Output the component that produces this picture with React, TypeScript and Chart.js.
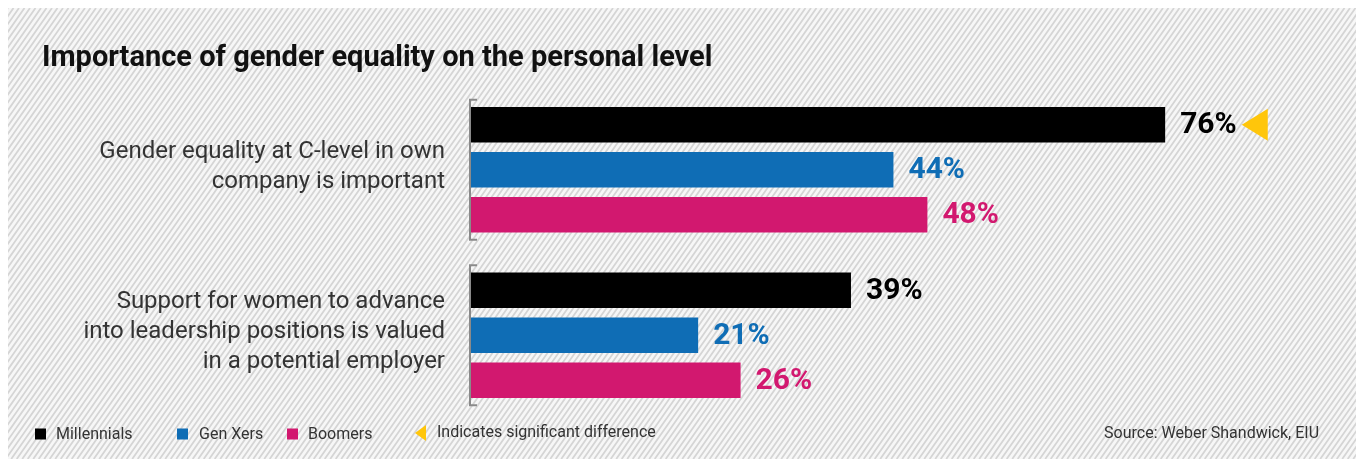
import React, { useEffect, useRef } from "react";
import { Chart, registerables } from "chart.js";

Chart.register(...registerables);

// ---- data ----
const categories: string[][] = [
  ["Gender equality at C-level in own", "company is important"],
  ["Support for women to advance", "into leadership positions is valued", "in a potential employer"],
];
const seriesNames = ["Millennials", "Gen Xers", "Boomers"];
const millennials = [76, 39];
const genXers = [44, 21];
const boomers = [48, 26];
const significant = [true, false]; // Millennials flagged with a significant difference
const seriesColors = ["#000000", "#0f6db5", "#d2186f"];
const markerColor = "#ffc60b";
const titleText = "Importance of gender equality on the personal level";
const sourceText = "Source: Weber Shandwick, EIU";
const significanceText = "Indicates significant difference";
const X_MIN = -5.75;
const X_MAX = 94;

const FONT = "Roboto, 'Noto Sans', sans-serif";
const W = 1348;
const H = 451;

const stripesPlugin = {
  id: "stripes",
  beforeDraw(chart: any) {
    const { ctx, width, height } = chart;
    ctx.save();
    ctx.fillStyle = "#f7f7f7";
    ctx.fillRect(0, 0, width, height);
    ctx.strokeStyle = "#d5d5d5";
    ctx.lineWidth = 1.8;
    const angle = (55 * Math.PI) / 180;
    const step = 5.5;
    const dx = height / Math.tan(angle);
    ctx.beginPath();
    for (let x = -dx - step; x < width + step; x += step) {
      ctx.moveTo(x, height);
      ctx.lineTo(x + dx, 0);
    }
    ctx.stroke();
    ctx.restore();
  },
};

const bracketPlugin = {
  id: "brackets",
  afterDatasetsDraw(chart: any) {
    const { ctx, chartArea } = chart;
    const y = chart.scales.y;
    const cw = Math.abs(y.getPixelForValue(1) - y.getPixelForValue(0));
    const half = (cw * 0.845) / 2;
    const x0 = chartArea.left - 1;
    ctx.save();
    ctx.strokeStyle = "#8a8a8a";
    ctx.lineWidth = 2;
    for (let i = 0; i < categories.length; i++) {
      const c = y.getPixelForValue(i);
      ctx.beginPath();
      ctx.moveTo(x0 + 7, c - half);
      ctx.lineTo(x0, c - half);
      ctx.lineTo(x0, c + half);
      ctx.lineTo(x0 + 7, c + half);
      ctx.stroke();
    }
    ctx.restore();
  },
};

function drawTriangle(ctx: CanvasRenderingContext2D, tipX: number, cy: number, w: number, h: number) {
  ctx.beginPath();
  ctx.moveTo(tipX, cy);
  ctx.lineTo(tipX + w, cy - h / 2);
  ctx.lineTo(tipX + w, cy + h / 2);
  ctx.closePath();
  ctx.fillStyle = markerColor;
  ctx.fill();
}

const valueLabelPlugin = {
  id: "valueLabels",
  afterDatasetsDraw(chart: any) {
    const { ctx } = chart;
    ctx.save();
    ctx.font = `bold 30px ${FONT}`;
    ctx.textBaseline = "middle";
    ctx.textAlign = "left";
    chart.data.datasets.forEach((ds: any, di: number) => {
      const meta = chart.getDatasetMeta(di);
      meta.data.forEach((bar: any, i: number) => {
        const txt = `${ds.data[i]}%`;
        const tx = bar.x + 15;
        ctx.fillStyle = seriesColors[di];
        ctx.fillText(txt, tx, bar.y + 1);
        if (di === 0 && significant[i]) {
          const w = ctx.measureText(txt).width;
          drawTriangle(ctx, tx + w + 5, bar.y, 26, 32);
        }
      });
    });
    ctx.restore();
  },
};

const decorPlugin = {
  id: "decor",
  afterDraw(chart: any) {
    const { ctx } = chart;
    ctx.save();
    // title
    ctx.fillStyle = "#111111";
    ctx.font = `bold 29px ${FONT}`;
    ctx.textAlign = "left";
    ctx.textBaseline = "alphabetic";
    ctx.fillText(titleText, 34, 58);
    // legend
    const ly = 426;
    ctx.font = `16px ${FONT}`;
    ctx.textBaseline = "middle";
    const sq = [27, 169, 279];
    const tx = [48, 191, 300];
    seriesNames.forEach((n, i) => {
      ctx.fillStyle = seriesColors[i];
      ctx.fillRect(sq[i], ly - 5.5, 11, 11);
      ctx.fillStyle = "#333333";
      ctx.fillText(n, tx[i], ly + 1);
    });
    drawTriangle(ctx, 407, ly - 1, 11, 16);
    ctx.fillStyle = "#333333";
    ctx.fillText(significanceText, 429, ly - 1);
    ctx.textAlign = "right";
    ctx.fillText(sourceText, 1311, ly);
    ctx.restore();
  },
};

export default function App() {
  const ref = useRef<HTMLCanvasElement | null>(null);
  useEffect(() => {
    if (!ref.current) return;
    const chart = new Chart(ref.current, {
      type: "bar",
      data: {
        labels: categories,
        datasets: [
          { label: seriesNames[0], data: millennials, backgroundColor: seriesColors[0] },
          { label: seriesNames[1], data: genXers, backgroundColor: seriesColors[1] },
          { label: seriesNames[2], data: boomers, backgroundColor: seriesColors[2] },
        ].map((d) => ({ ...d, base: X_MIN, barPercentage: 0.79, categoryPercentage: 0.816, borderWidth: 0 })) as any,
      },
      options: {
        indexAxis: "y",
        animation: false,
        responsive: false,
        devicePixelRatio: 1,
        layout: { padding: { top: 79, bottom: 41, right: 38, left: 0 } },
        plugins: { legend: { display: false }, tooltip: { enabled: false }, title: { display: false } },
        scales: {
          x: { type: "linear", min: X_MIN, max: X_MAX, display: false },
          y: {
            type: "category",
            offset: true,
            grid: { display: false, drawTicks: false },
            border: { display: false },
            ticks: {
              color: "#333333",
              padding: 26,
              labelOffset: -3,
              font: { family: FONT, size: 24, lineHeight: 1.25 },
            },
            afterFit: (s: any) => {
              s.width = 463;
              s.paddingTop = 0;
              s.paddingBottom = 0;
            },
          },
        },
      },
      plugins: [stripesPlugin, bracketPlugin, valueLabelPlugin, decorPlugin],
    });
    return () => chart.destroy();
  }, []);
  return (
    <div style={{ position: "fixed", left: 8, top: 8, width: W, height: H }}>
      <canvas ref={ref} width={W} height={H} style={{ display: "block" }} />
    </div>
  );
}
